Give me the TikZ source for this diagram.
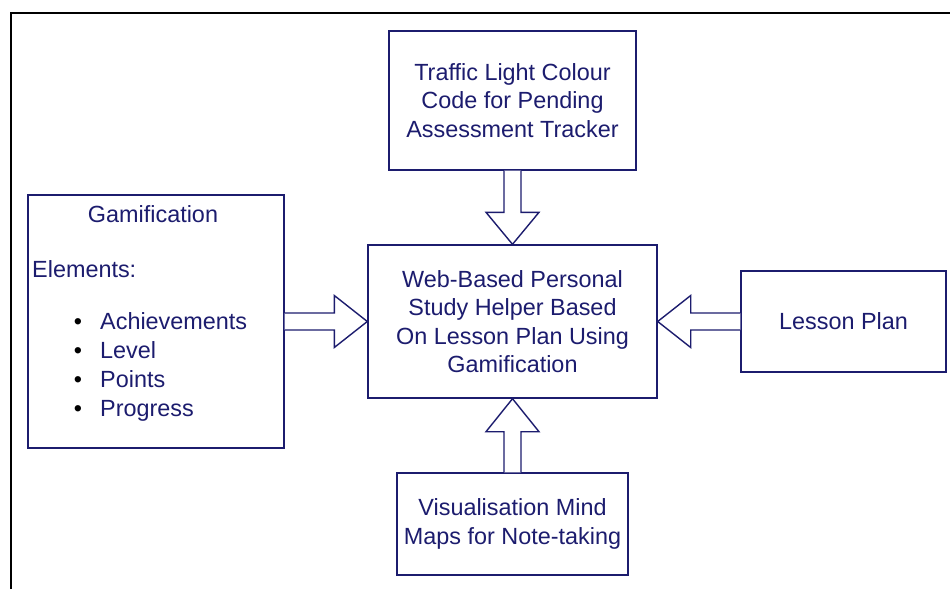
\documentclass[tikz,border=0pt]{standalone}
\usepackage{fontspec}
\setmainfont{Liberation Sans}
\usetikzlibrary{calc}
\definecolor{navy}{RGB}{28,28,110}
\begin{document}
\begin{tikzpicture}[x=1pt,y=-1pt,
  box/.style={draw=navy,line width=1.4pt,inner sep=0pt,align=center,text=navy,
    font=\fontsize{23.4}{28.5}\selectfont},
  blk/.style={draw=navy,line width=1.4pt,fill=white,line join=miter},
  txt/.style={text=navy,inner sep=0pt,anchor=base west,font=\fontsize{23.4}{28.5}\selectfont},
  frame/.style={draw=black,line width=2pt}]
\useasboundingbox (0,0) rectangle (950,589);
\fill[white] (0,0) rectangle (950,589);
% outer frame
\coordinate (f1) at (11,589);
\coordinate (f2) at (11,13);
\coordinate (f3) at (951,13);
\draw[frame] (f1) -- (f2) -- (f3);
% boxes
\node[box,minimum width=247pt,minimum height=139pt] (top) at (512.5,100.5)
  {Traffic Light Colour\\Code for Pending\\Assessment Tracker};
\node[box,minimum width=289pt,minimum height=153pt] (cen) at (512.5,321.5)
  {Web-Based Personal\\Study Helper Based\\On Lesson Plan Using\\Gamification};
\node[box,minimum width=256pt,minimum height=253pt] (gam) at (156,321.5) {};
\node[box,minimum width=205pt,minimum height=101pt] (les) at (843.5,321.5) {Lesson Plan};
\node[box,minimum width=231pt,minimum height=102pt] (bot) at (512.5,524)
  {Visualisation Mind\\Maps for Note-taking};
% gamification texts
\node[txt,anchor=base] (g1) at (153,222) {Gamification};
\node[txt] (g2) at (32,277) {Elements:};
\node[txt] (g3) at (100,329) {Achievements};
\node[txt] (g4) at (100,358) {Level};
\node[txt] (g5) at (100,387) {Points};
\node[txt] (g6) at (100,416) {Progress};
\foreach \i/\yy in {a/329,b/358,c/387,d/416}{
  \node[txt,text=black,anchor=base] (b\i) at (78,\yy) {•};
}
% block arrows
\draw[blk] ($(gam.east)+(0,-8.5)$) -- ($(cen.west)+(-33,-8.5)$) -- ($(cen.west)+(-33,-26)$)
  -- (cen.west) -- ($(cen.west)+(-33,26)$) -- ($(cen.west)+(-33,8.5)$) -- ($(gam.east)+(0,8.5)$);
\draw[blk] ($(les.west)+(0,-8.5)$) -- ($(cen.east)+(33,-8.5)$) -- ($(cen.east)+(33,-26)$)
  -- (cen.east) -- ($(cen.east)+(33,26)$) -- ($(cen.east)+(33,8.5)$) -- ($(les.west)+(0,8.5)$);
\draw[blk] ($(top.south)+(-8.5,0)$) -- ($(cen.north)+(-8.5,-32)$) -- ($(cen.north)+(-26.5,-32)$)
  -- (cen.north) -- ($(cen.north)+(26.5,-32)$) -- ($(cen.north)+(8.5,-32)$) -- ($(top.south)+(8.5,0)$);
\draw[blk] ($(bot.north)+(-8.5,0)$) -- ($(cen.south)+(-8.5,33)$) -- ($(cen.south)+(-26.5,33)$)
  -- (cen.south) -- ($(cen.south)+(26.5,33)$) -- ($(cen.south)+(8.5,33)$) -- ($(bot.north)+(8.5,0)$);
\end{tikzpicture}
\end{document}
